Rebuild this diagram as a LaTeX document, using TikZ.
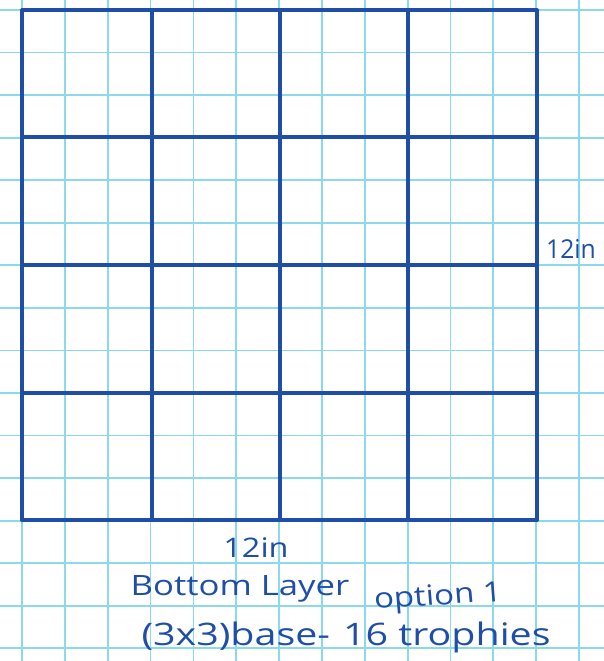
\documentclass[tikz,border=0pt]{standalone}
\usepackage{fontspec}
\setmainfont{Open Sans}
\definecolor{paper}{RGB}{138,218,236}
\definecolor{ink}{RGB}{30,78,168}
\begin{document}
\begin{tikzpicture}[x=1pt,y=-1pt,
  thin grid/.style={draw=paper,line width=1.8pt},
  ink line/.style={draw=ink,line width=3.4pt,line cap=round},
  hand/.style={text=ink,inner sep=0pt}]
\useasboundingbox[fill=white] (0,0) rectangle (604,661);
% graph paper
\foreach \i in {0,...,13} {
  \draw[thin grid] ({22+42.85*\i},0) -- ({22+42.85*\i},661);
}
\foreach \j in {0,...,15} {
  \draw[thin grid] (0,{10+42.55*\j}) -- (604,{10+42.55*\j});
}
% drawn 4x4 grid
\foreach \x in {22,152,280,408,537} {
  \draw[ink line] (\x,10) -- (\x,520);
}
\foreach \y in {10,137,265,393,520} {
  \draw[ink line] (22,\y) -- (537,\y);
}
% labels
\node[hand,font=\fontsize{26}{28}\selectfont,xscale=0.95] (rlab) at (571,249) {12in};
\node[hand,font=\fontsize{27}{29}\selectfont,xscale=1.2] (blab) at (256,548) {12in};
\node[hand,font=\fontsize{28}{30}\selectfont,xscale=1.24] (t1) at (240,589) {Bottom Layer};
\node[hand,font=\fontsize{28}{30}\selectfont,xscale=1.18,rotate=4] (t2) at (438,598) {option 1};
\node[hand,font=\fontsize{31}{33}\selectfont,xscale=1.27] (t3) at (346,637) {(3x3)base-\,\,16 trophies};
\end{tikzpicture}
\end{document}
